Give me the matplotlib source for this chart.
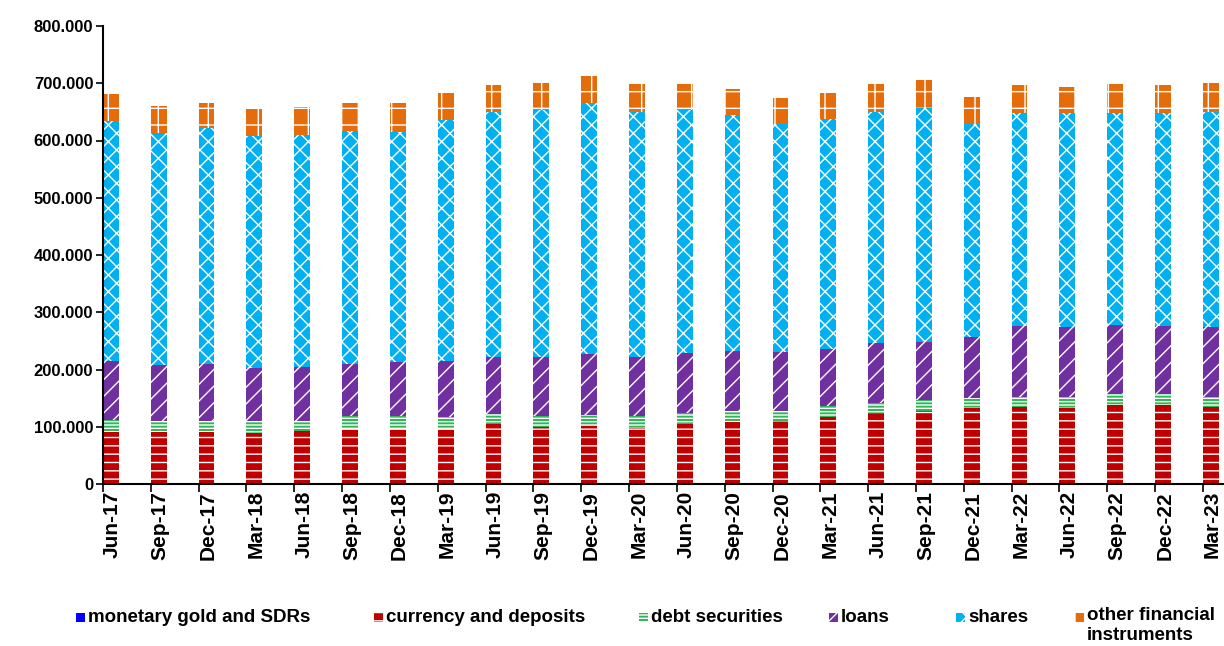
import matplotlib.pyplot as plt
import numpy as np
from matplotlib.patches import Rectangle

plt.rcParams['font.family'] = ['Liberation Sans', 'DejaVu Sans']
plt.rcParams['hatch.linewidth'] = 1.0

# кварталы
quarters = ['Jun-17', 'Sep-17', 'Dec-17', 'Mar-18', 'Jun-18', 'Sep-18', 'Dec-18', 'Mar-19',
            'Jun-19', 'Sep-19', 'Dec-19', 'Mar-20', 'Jun-20', 'Sep-20', 'Dec-20', 'Mar-21',
            'Jun-21', 'Sep-21', 'Dec-21', 'Mar-22', 'Jun-22', 'Sep-22', 'Dec-22', 'Mar-23']

# значения по сериям (тыс.)
gold = [0.3] * 24
currency = [91, 90, 90, 89, 93, 96, 96, 96, 104, 99, 101, 98,
            105, 108, 109, 117, 123, 127, 132, 135, 132, 137, 137, 134]
debt = [20, 20, 20, 21, 17, 23, 23, 20, 18, 20, 19, 21,
        18, 20, 19, 19, 19, 20, 18, 16, 19, 20, 20, 17]
loans = [103, 97, 99, 93, 94, 90, 93, 99, 100, 103, 106, 103,
         106, 104, 102, 100, 104, 101, 106, 124, 123, 120, 118, 123]
shares = [419, 405, 412, 405, 406, 408, 403, 420, 428, 431, 440, 428,
          424, 413, 398, 401, 404, 409, 373, 372, 373, 370, 372, 376]
other = [48, 48, 44, 48, 48, 48, 50, 48, 47, 48, 47, 49,
         46, 44, 46, 45, 49, 49, 46, 50, 47, 52, 50, 51]

labels = ['monetary gold and SDRs', 'currency and deposits', 'debt securities',
          'loans', 'shares', 'other financial\ninstruments']

series = [gold, currency, debt, loans, shares, other]
colors = ['#0000FF', '#C00000', '#2DB757', '#7030A0', '#00B0F0', '#E46C0A']
hatches = [None, '--', '-----', '//', 'xx', '+']

W, H = 1224, 646
fig = plt.figure(figsize=(W / 100, H / 100), dpi=100)
ax = fig.add_axes([103 / W, 162 / H, 1 - 103 / W, (484 - 26) / H])

x = np.arange(len(quarters))
width = 0.33
bottom = np.zeros(len(quarters))
for vals, col, hat in zip(series, colors, hatches):
    vals = np.array(vals, dtype=float)
    ax.bar(x + width / 2, vals, width, bottom=bottom, color=col, hatch=hat,
           edgecolor='white' if hat else col, linewidth=0)
    bottom += vals

ax.set_xlim(0, 23.44)
ax.set_ylim(0, 800)
ax.set_yticks(np.arange(0, 801, 100))
ax.set_yticklabels(['0'] + [f'{v}.000' for v in range(100, 801, 100)],
                   fontsize=12, fontweight='bold')
ax.set_xticks(np.arange(0, 24))
ax.set_xticklabels([])
ax.set_xticks(x + 0.2, minor=True)
ax.set_xticklabels(quarters, minor=True, rotation=90, fontsize=15, fontweight='bold')
ax.tick_params(axis='x', which='minor', length=0, pad=5)
ax.tick_params(axis='x', which='major', length=6, width=1.2, direction='out')
ax.tick_params(axis='y', length=5, width=1.2, direction='out', pad=2)
for side in ['top', 'right']:
    ax.spines[side].set_visible(False)
for side in ['left', 'bottom']:
    ax.spines[side].set_linewidth(1.5)

# легенда вручную
leg_x = [76, 374, 639, 829, 956, 1075]
leg_y = 617
for lx, lab, col, hat in zip(leg_x, labels, colors, hatches):
    fig.patches.append(Rectangle((lx / W, (H - leg_y - 4.5) / H), 9 / W, 9 / H,
                                 transform=fig.transFigure, facecolor=col, hatch=hat,
                                 edgecolor='white' if hat else col, linewidth=0))
    if '\n' in lab:
        fig.text((lx + 12) / W, (H - leg_y + 10) / H, lab, fontsize=13.5, fontweight='bold',
                 va='top', ha='left', linespacing=1.2)
    else:
        fig.text((lx + 12) / W, (H - leg_y) / H, lab, fontsize=13.5, fontweight='bold',
                 va='center', ha='left')

fig.savefig('out.png', dpi=100)
